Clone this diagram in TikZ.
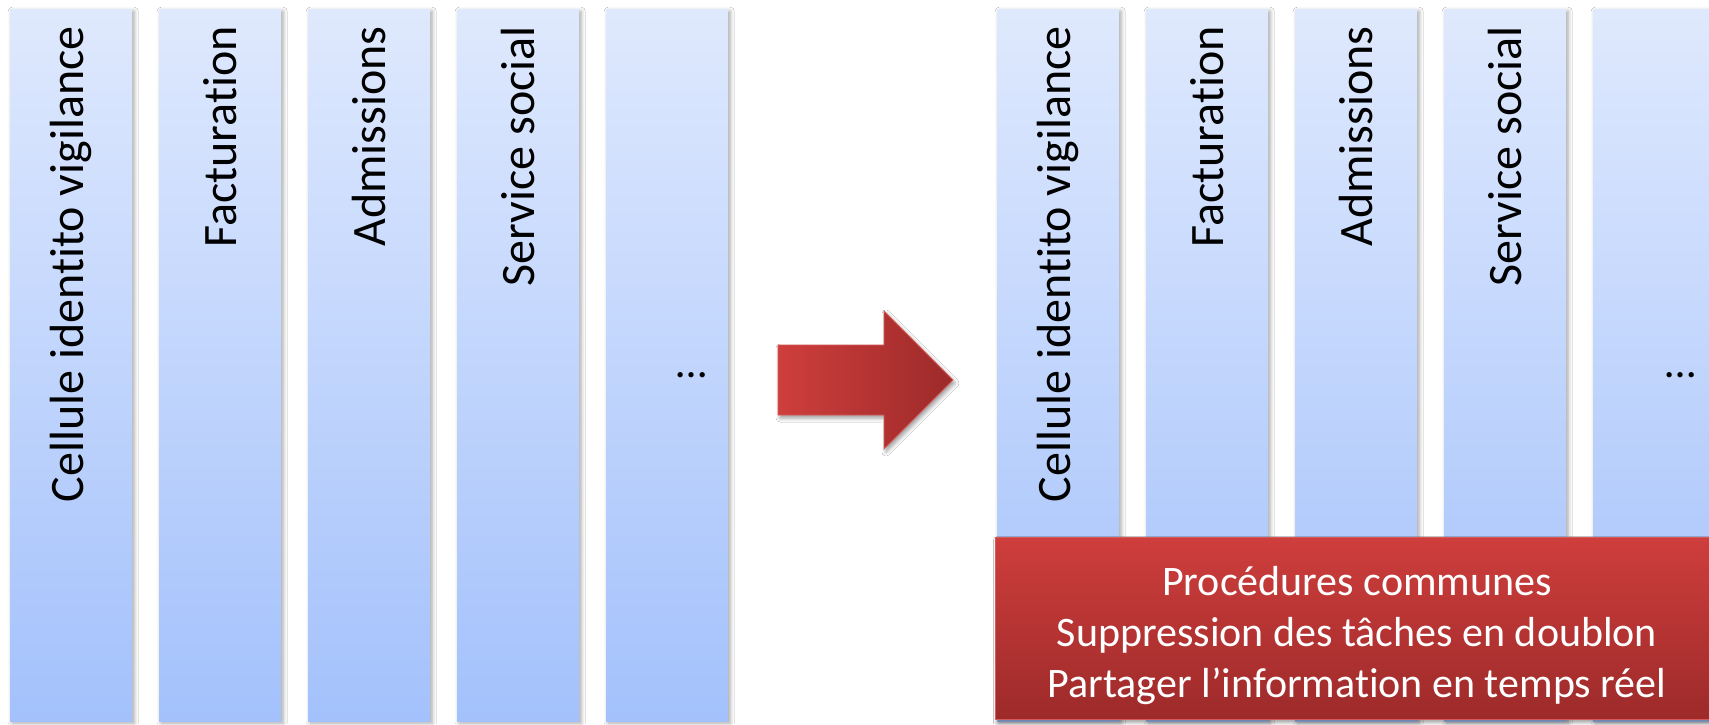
\documentclass[tikz,border=0pt]{standalone}
\usepackage{fontspec}
\setmainfont{Carlito}[Ligatures=NoCommon]
\usetikzlibrary{shadows.blur}
\definecolor{coltop}{RGB}{223,233,253}
\definecolor{colbot}{RGB}{163,193,252}
\definecolor{redlight}{RGB}{206,62,60}
\definecolor{reddark}{RGB}{157,42,42}
\definecolor{rededge}{RGB}{214,90,88}
\tikzset{
  column/.style={rectangle, inner sep=0pt, minimum width=122pt, minimum height=712pt,
    anchor=north west, top color=coltop, bottom color=colbot, draw=none,
    blur shadow={shadow xshift=2pt, shadow yshift=-2pt, shadow blur radius=4pt, shadow opacity=35}},
  collabel/.style={rotate=90, anchor=east, inner sep=0pt,
    font=\fontsize{48}{58}\selectfont, text=black},
  dots/.style={inner sep=0pt, font=\fontsize{44}{52}\selectfont, text=black},
  redbar/.style={rectangle, inner sep=0pt, anchor=north west, minimum width=716pt, minimum height=182pt,
    top color=redlight, bottom color=reddark, draw=rededge, line width=0.8pt,
    blur shadow={shadow xshift=2pt, shadow yshift=-3pt, shadow blur radius=4pt, shadow opacity=40}},
  bartext/.style={inner sep=0pt, align=center, text=white,
    font=\fontsize{42}{51}\selectfont},
  bigarrow/.style={left color=redlight, right color=reddark, draw=rededge, line width=0.8pt,
    blur shadow={shadow xshift=2pt, shadow yshift=-3pt, shadow blur radius=4pt, shadow opacity=40}},
}
\begin{document}
\begin{tikzpicture}[x=1pt, y=-1pt]
  \clip (0,0) rectangle (1709,724);
  \fill[white] (0,0) rectangle (1709,724);

  % departments working separately
  \node[column] (a1) at (10,9) {};
  \node[column] (a2) at (159,9) {};
  \node[column] (a3) at (308,9) {};
  \node[column] (a4) at (457,9) {};
  \node[column] (a5) at (606,9) {};
  \node[collabel] (la1) at (71,26) {Cellule identito vigilance};
  \node[collabel] (la2) at (220,26) {Facturation};
  \node[collabel] (la3) at (369,26) {Admissions};
  \node[collabel] (la4) at (518,26) {Service social};
  \node[dots] (la5) at (692,375) {…};

  % transition arrow
  \path[bigarrow] (778,345) -- (884,345) -- (884,311) -- (953,380)
    -- (884,449) -- (884,415) -- (778,415) -- cycle;

  % departments sharing common procedures
  \node[column] (b1) at (997,9) {};
  \node[column] (b2) at (1146,9) {};
  \node[column] (b3) at (1295,9) {};
  \node[column] (b4) at (1444,9) {};
  \node[column] (b5) at (1593,9) {};
  \node[collabel] (lb1) at (1058,26) {Cellule identito vigilance};
  \node[collabel] (lb2) at (1207,26) {Facturation};
  \node[collabel] (lb3) at (1356,26) {Admissions};
  \node[collabel] (lb4) at (1505,26) {Service social};
  \node[dots] (lb5) at (1681,375) {…};

  \node[redbar] (bar) at (995,537) {};
  \node[bartext] (bt) at (1357,636)
    {Procédures communes\\Suppression des tâches en doublon\\Partager l’information en temps réel};
\end{tikzpicture}
\end{document}
